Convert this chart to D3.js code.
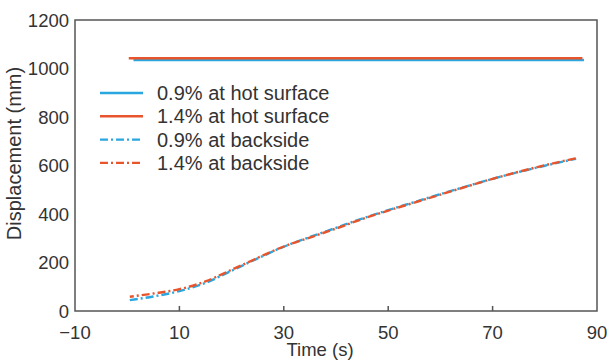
<!DOCTYPE html>
<html>
<head>
<meta charset="utf-8">
<script src="https://cdn.jsdelivr.net/npm/d3@7"></script>
<style>
  body { margin: 0; background: #fff; }
  text { font-family: 'Liberation Sans', Arial, sans-serif; fill: #333; }
</style>
</head>
<body>
<svg></svg>
<script>
// values
const hot09 = [[1.2, 1035], [87.5, 1035]];
const hot14 = [[0.3, 1042], [87.2, 1042]];
const back09 = [[0.5, 45], [5, 60], [10, 82], [15, 116], [20, 166], [25, 217], [30, 265], [35, 305], [40, 343], [45, 381], [50, 416], [55, 449], [60, 482], [65, 514], [70, 545], [75, 573], [80, 599], [86, 628]];
const back14 = [[0.5, 59], [5, 72], [10, 90], [15, 122], [20, 170], [25, 219], [30, 266], [35, 303], [40, 340], [45, 379], [50, 414], [55, 447], [60, 480], [65, 513], [70, 545], [75, 574], [80, 601], [86, 630]];
const xTickLabels = [-10, 10, 30, 50, 70, 90];
const xTickMarks = [10, 30, 50, 70];
const yTickLabels = [0, 200, 400, 600, 800, 1000, 1200];
const legendLabels = ['0.9% at hot surface', '1.4% at hot surface', '0.9% at backside', '1.4% at backside'];

const blue = '#2aa7df';
const orange = '#e8552c';
const dashDot = '8,3,2,3';

const width = 613;
const height = 362;
const margin = { top: 20, right: 16, bottom: 51, left: 75 };

const svg = d3.select('svg')
  .attr('width', width)
  .attr('height', height);

const x = d3.scaleLinear().domain([-10, 90]).range([margin.left, width - margin.right]);
const y = d3.scaleLinear().domain([0, 1200]).range([height - margin.bottom, margin.top]);

const line = d3.line()
  .x(d => x(d[0]))
  .y(d => y(d[1]))
  .curve(d3.curveMonotoneX);

const series = [
  { data: hot09, color: blue, dash: null, off: 0 },
  { data: back09, color: blue, dash: dashDot, off: 0 },
  { data: hot14, color: orange, dash: null, off: 0 },
  { data: back14, color: orange, dash: dashDot, off: 4 },
];

svg.selectAll('path.series')
  .data(series)
  .enter()
  .append('path')
  .attr('class', 'series')
  .attr('d', d => line(d.data))
  .attr('fill', 'none')
  .attr('stroke', d => d.color)
  .attr('stroke-width', 2.4)
  .attr('stroke-dasharray', d => d.dash)
  .attr('stroke-dashoffset', d => d.off);

// frame
svg.append('rect')
  .attr('x', x(-10))
  .attr('y', y(1200))
  .attr('width', x(90) - x(-10))
  .attr('height', y(0) - y(1200))
  .attr('fill', 'none')
  .attr('stroke', '#555')
  .attr('stroke-width', 1.5);

// inward ticks on the bottom
svg.selectAll('line.xtick')
  .data(xTickMarks)
  .enter()
  .append('line')
  .attr('x1', d => x(d))
  .attr('x2', d => x(d))
  .attr('y1', y(0))
  .attr('y2', y(0) - 5)
  .attr('stroke', '#555')
  .attr('stroke-width', 1.5);

svg.selectAll('text.xlab')
  .data(xTickLabels)
  .enter()
  .append('text')
  .attr('x', d => x(d))
  .attr('y', 339)
  .attr('text-anchor', 'middle')
  .style('font-size', '18.5px')
  .text(d => (d < 0 ? '\u2212' + Math.abs(d) : d));

svg.selectAll('text.ylab')
  .data(yTickLabels)
  .enter()
  .append('text')
  .attr('x', 69)
  .attr('y', d => y(d))
  .attr('dy', '0.36em')
  .attr('text-anchor', 'end')
  .style('font-size', '18.5px')
  .text(d => d);

svg.append('text')
  .attr('x', 320)
  .attr('y', 356)
  .attr('text-anchor', 'middle')
  .style('font-size', '18.5px')
  .text('Time (s)');

svg.append('text')
  .attr('transform', `translate(21,${(y(0) + y(1200)) / 2 - 12}) rotate(-90)`)
  .attr('text-anchor', 'middle')
  .style('font-size', '20px')
  .text('Displacement (mm)');

// legend
const legend = svg.append('g').attr('transform', 'translate(100,93)');
const rows = legend.selectAll('g')
  .data(legendLabels)
  .enter()
  .append('g')
  .attr('transform', (d, i) => `translate(0,${i * 23.3})`);

rows.append('line')
  .attr('x1', 0)
  .attr('x2', 43)
  .attr('stroke', (d, i) => (i % 2 === 0 ? blue : orange))
  .attr('stroke-width', 2.4)
  .attr('stroke-dasharray', (d, i) => (i < 2 ? null : dashDot));

rows.append('text')
  .attr('x', 57)
  .attr('dy', '0.35em')
  .style('font-size', '20px')
  .text(d => d);
</script>
</body>
</html>
